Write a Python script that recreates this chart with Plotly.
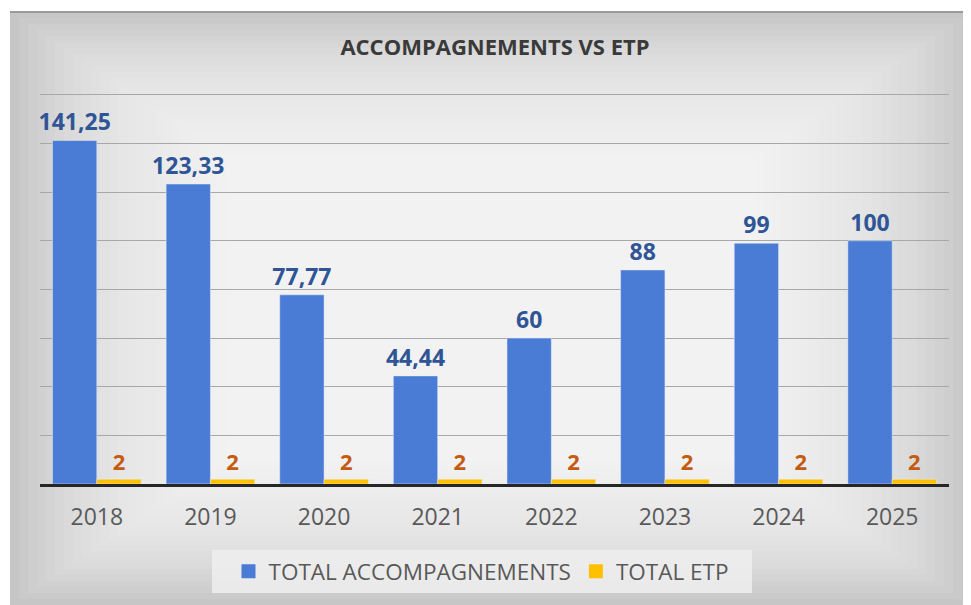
import plotly.graph_objects as go

years = ["2018", "2019", "2020", "2021", "2022", "2023", "2024", "2025"]
accompagnements = [141.25, 123.33, 77.77, 44.44, 60, 88, 99, 100]
etp = [2, 2, 2, 2, 2, 2, 2, 2]

BLUE = "#4A7BD5"
GOLD = "#FFC000"


def fr(v):
    # French decimal comma
    return f"{v:g}".replace(".", ",")


# the page body has an 8px margin, so work in screen pixels and shift
OFF = 8
SW, SH = 971, 605
W, H = SW - OFF, SH - OFF
YMAX = 162
PX_PER_UNIT = 389 / 160
PL, PR, PB = 40, 949, 484  # plot area in screen pixels
PT = round(PB - YMAX * PX_PER_UNIT)
ML, MR, MT, MB = PL - OFF, W - (PR - OFF), PT - OFF, H - (PB - OFF)
PW, PH = PR - PL, PB - PT


def px_to_paper(x, y):
    return (x - PL) / PW, (PB - y) / PH


fig = go.Figure()

fig.add_trace(
    go.Bar(
        x=years,
        y=accompagnements,
        name="TOTAL ACCOMPAGNEMENTS",
        marker_color=BLUE,
        text=[fr(v) for v in accompagnements],
        textposition="outside",
        textfont={"size": 23, "color": "#2F5597", "weight": 700},
        constraintext="none",
        cliponaxis=False,
        hoverinfo="skip",
        showlegend=False,
    )
)
fig.add_trace(
    go.Bar(
        x=years,
        y=etp,
        name="TOTAL ETP",
        marker_color=GOLD,
        text=[fr(v) for v in etp],
        textposition="outside",
        textfont={"size": 22, "color": "#C55A11", "weight": 700},
        constraintext="none",
        cliponaxis=False,
        hoverinfo="skip",
        showlegend=False,
    )
)

# legend entries with bigger square swatches
for name, color in [("TOTAL ACCOMPAGNEMENTS", BLUE), ("TOTAL ETP", GOLD)]:
    fig.add_trace(
        go.Scatter(
            x=[None],
            y=[None],
            mode="markers",
            name=name,
            marker={"symbol": "square", "size": 14, "color": color},
        )
    )

# gray panel with a soft highlight towards the middle
shapes = []
x0, y0 = px_to_paper(10, 12)
x1, y1 = px_to_paper(SW + 20, SH + 20)
shapes.append(
    dict(type="rect", xref="paper", yref="paper", x0=x0, y0=y1, x1=x1, y1=y0,
         fillcolor="#c6c6c6", line_width=0, layer="below")
)
for i in range(1, 25):
    ix, iy = 9 * i, 6 * i
    a0, b0 = px_to_paper(10 + ix, 12 + iy)
    a1, b1 = px_to_paper(SW - ix, SH - iy)
    shapes.append(
        dict(type="rect", xref="paper", yref="paper", x0=a0, y0=b1, x1=a1, y1=b0,
             fillcolor="rgba(255,255,255,0.075)", line_width=0, layer="below")
    )
shapes.append(
    dict(type="line", xref="paper", yref="paper", x0=x0, x1=x1,
         y0=y0, y1=y0, line={"color": "#9a9a9a", "width": 2}, layer="below")
)
# legend panel
b0x, b0y = px_to_paper(212, 550)
b1x, b1y = px_to_paper(752, 593)
shapes.append(
    dict(type="rect", xref="paper", yref="paper", x0=b0x, y0=b1y, x1=b1x, y1=b0y,
         fillcolor="rgba(238,238,238,0.85)", line_width=0, layer="below")
)

lx, ly = px_to_paper(481, 550)

fig.update_layout(
    width=W,
    height=H,
    margin={"l": ML, "r": MR, "t": MT, "b": MB, "autoexpand": False},
    paper_bgcolor="white",
    plot_bgcolor="rgba(0,0,0,0)",
    font={"family": "Open Sans", "color": "#595959"},
    title={
        "text": "ACCOMPAGNEMENTS VS ETP",
        "x": (495 - OFF) / W,
        "xanchor": "center",
        "y": 1 - (47 - OFF) / H,
        "yanchor": "middle",
        "font": {"size": 22, "color": "#3a3a3a", "weight": 700},
    },
    barmode="group",
    bargap=0.22,
    bargroupgap=0,
    shapes=shapes,
    showlegend=True,
    legend={
        "orientation": "h",
        "x": lx,
        "xanchor": "center",
        "y": ly,
        "yanchor": "top",
        "bgcolor": "rgba(0,0,0,0)",
        "font": {"size": 22.5, "color": "#595959"},
        "itemwidth": 30,
        "tracegroupgap": 0,
    },
    xaxis={
        "showgrid": False,
        "showline": True,
        "linecolor": "#262626",
        "linewidth": 3,
        "ticks": "",
        "ticklabelstandoff": 10,
        "tickfont": {"size": 23, "color": "#595959"},
    },
    yaxis={
        "range": [0, YMAX],
        "tickvals": [20, 40, 60, 80, 100, 120, 140, 160],
        "showticklabels": False,
        "showgrid": True,
        "gridcolor": "#a8a8a8",
        "gridwidth": 1,
        "zeroline": False,
    },
)

fig.write_html("out.html")
